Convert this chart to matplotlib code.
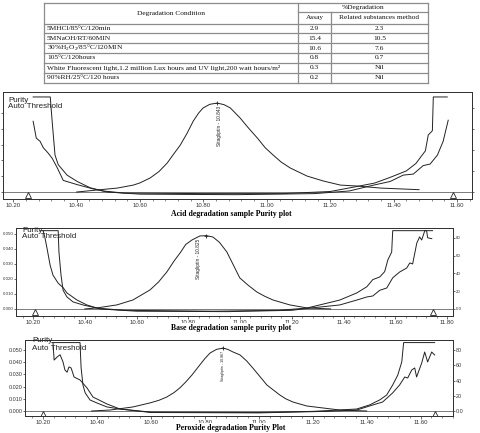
import matplotlib.pyplot as plt
import matplotlib.transforms as mtransforms
from matplotlib.ticker import AutoMinorLocator

W, H = 481, 433

plt.rcParams['mathtext.fontset'] = 'custom'
plt.rcParams['mathtext.rm'] = 'Liberation Serif'

# ---- table data
conditions = [
    '5MHCl/85°C/120min',
    '5MNaOH/RT/60MIN',
    '30%H$_2$O$_2$/85°C/120MIN',
    '105°C/120hours',
    'White Fluorescent light,1.2 million Lux hours and UV light,200 watt hours/m²',
    '90%RH/25°C/120 hours',
]
assay = ['2.9', '15.4', '10.6', '0.8', '0.3', '0.2']
related = ['2.3', '10.5', '7.6', '0.7', 'Nil', 'Nil']

# ---- acid degradation purity plot (minutes, AU / degrees)
acid_peak_t = [10.40, 10.465, 10.528, 10.579, 10.60, 10.632, 10.66, 10.686, 10.706, 10.727,
               10.748, 10.768, 10.785, 10.799, 10.82, 10.843, 10.865, 10.885, 10.916, 10.94,
               10.970, 10.995, 11.020, 11.045, 11.074, 11.127, 11.178, 11.232, 11.285, 11.36,
               11.48]
acid_peak_au = [0.0, 0.0013, 0.0025, 0.0044, 0.0058, 0.0089, 0.0130, 0.0184, 0.0240, 0.0297,
                0.0370, 0.0449, 0.0500, 0.0532, 0.0555, 0.0563, 0.0553, 0.0532, 0.0468, 0.0410,
                0.0342, 0.0280, 0.0234, 0.0190, 0.0152, 0.0101, 0.0070, 0.0044, 0.0038, 0.0025,
                0.0015]
acid_pur_t = [10.263, 10.317, 10.323, 10.332, 10.342, 10.370, 10.402, 10.443, 10.484, 10.55, 10.80,
              11.05, 11.20, 11.28, 11.34, 11.39, 11.44, 11.47, 11.50, 11.509, 11.522, 11.525, 11.569]
acid_pur_deg = [90, 90, 67, 35, 26, 16, 10, 4, 1, -1, -1.5,
                -1.5, 0.5, 5, 8.5, 14, 20, 27, 39, 54, 58, 90, 90]
acid_thr_t = [10.263, 10.273, 10.285, 10.295, 10.310, 10.323, 10.339, 10.358, 10.402, 10.452, 10.497,
              10.60, 10.90, 11.15, 11.26, 11.336, 11.389, 11.430, 11.462, 11.493, 11.515, 11.538,
              11.556, 11.572]
acid_thr_deg = [67, 51, 48, 42, 37, 32, 23, 11, 7, 3, 0,
                -2, -2.5, -1.5, 1, 6.5, 10, 16, 17, 25, 26.5, 35, 48, 68]
acid_tri = [10.247, 11.588]
acid_ticks = [10.20, 10.40, 10.60, 10.80, 11.00, 11.20, 11.40, 11.60]

# ---- base degradation purity plot
base_peak_t = [10.40, 10.447, 10.524, 10.586, 10.652, 10.685, 10.717, 10.745, 10.768, 10.79,
               10.814, 10.845, 10.87, 10.895, 10.92, 10.949, 10.975, 10.999, 11.03, 11.065,
               11.095, 11.127, 11.192, 11.258, 11.35]
base_peak_au = [0.0, 0.0007, 0.0027, 0.006, 0.0127, 0.018, 0.0247, 0.032, 0.0373, 0.043,
                0.046, 0.0487, 0.0489, 0.048, 0.0445, 0.038, 0.029, 0.0207, 0.016, 0.0113,
                0.0085, 0.006, 0.0027, 0.0007, 0.0]
base_pur_t = [10.23, 10.297, 10.300, 10.308, 10.316, 10.331, 10.354, 10.393, 10.447, 10.55, 10.90,
              11.15, 11.258, 11.385, 11.451, 11.490, 11.513, 11.540, 11.559, 11.571, 11.586,
              11.590, 11.744]
base_pur_deg = [88, 88, 64, 38, 21, 13.5, 8, 4.5, 1, -1.5, -2.5,
                -1.5, 1, 10, 18, 25, 33, 36, 42, 55, 64, 88, 88]
base_thr_t = [10.239, 10.246, 10.254, 10.266, 10.277, 10.297, 10.316, 10.331, 10.370, 10.408,
              10.459, 10.60, 10.95, 11.20, 11.27, 11.385, 11.451, 11.490, 11.513, 11.540, 11.567,
              11.590, 11.617, 11.644, 11.656, 11.667, 11.683, 11.694, 11.702, 11.714, 11.721,
              11.725, 11.741]
base_thr_deg = [88, 80, 68, 49, 38, 29, 24, 18, 10, 4.5,
                0, -2.5, -3, -1.5, 1, 4.5, 10, 13.5, 14.6, 21, 23.6,
                35, 41.6, 46, 51.7, 50.6, 74, 81, 77.5, 88, 88, 80, 79]
base_tri = [10.208, 11.744]
base_ticks = [10.20, 10.40, 10.60, 10.80, 11.00, 11.20, 11.40, 11.60, 11.80]

# ---- peroxide degradation purity plot
perox_peak_t = [10.38, 10.448, 10.533, 10.596, 10.63, 10.659, 10.685, 10.707, 10.73, 10.752,
                10.781, 10.80, 10.819, 10.843, 10.867, 10.885, 10.904, 10.930, 10.955, 10.978,
                11.005, 11.030, 11.055, 11.078, 11.10, 11.126, 11.178, 11.237, 11.300, 11.40]
perox_peak_au = [0.0, 0.0008, 0.0033, 0.0066, 0.0088, 0.0115, 0.015, 0.0189, 0.024, 0.0295,
                 0.0377, 0.043, 0.0475, 0.0505, 0.0516, 0.0505, 0.0484, 0.046, 0.041, 0.0352,
                 0.028, 0.0213, 0.017, 0.0131, 0.010, 0.0074, 0.0041, 0.0025, 0.0008, 0.0]
perox_pur_t = [10.233, 10.337, 10.341, 10.348, 10.356, 10.374, 10.400, 10.437, 10.485, 10.60,
               11.00, 11.20, 11.300, 11.363, 11.411, 11.448, 11.474, 11.496, 11.515, 11.530,
               11.537, 11.652]
perox_pur_deg = [90, 90, 57, 34, 24, 14.5, 10.5, 5.3, 2.6, -1.5,
                 -2, -0.5, 1.3, 2.6, 8, 14.5, 21, 34, 47, 64.5, 90, 90]
perox_thr_t = [10.237, 10.241, 10.252, 10.263, 10.274, 10.281, 10.289, 10.296, 10.304, 10.315,
               10.337, 10.363, 10.385, 10.437, 10.485, 10.60, 11.00, 11.25, 11.363, 11.411,
               11.459, 11.496, 11.522, 11.541, 11.552, 11.567, 11.578, 11.585, 11.604, 11.615,
               11.626, 11.641, 11.652]
perox_thr_deg = [89, 67, 71, 74, 64.5, 54, 51, 58, 56.6, 44.7,
                 40.8, 30.3, 18.4, 9.2, 2.6, -2, -2.5, -0.5, 1.3, 6.6,
                 11.8, 23.7, 34.2, 44.7, 43.4, 54, 56.6, 44.7, 63.2, 77.6,
                 64.5, 77.6, 73.7]
perox_tri = [10.20, 11.652]
perox_ticks = [10.20, 10.40, 10.60, 10.80, 11.00, 11.20, 11.40, 11.60]

au_ticks = [0.0, 0.01, 0.02, 0.03, 0.04, 0.05]
deg_ticks = [0, 20, 40, 60, 80]
deg_labels = ['0.0', '20', '40', '60', '80']

fig = plt.figure(figsize=(W / 100, H / 100), dpi=100)
ink = '#222222'


def panel(box, xlim, au_lim, deg_lim, peak_t, peak_au, pur_t, pur_deg, thr_t, thr_deg,
          tri, ticks, apex_label, lbl_dx, lbl_size, show_y, ylab_size=3.9):
    l, t, r, b = box
    ax = fig.add_axes([l / W, 1 - b / H, (r - l) / W, (b - t) / H])
    ax.patch.set_visible(False)
    ax2 = ax.twinx()
    ax.set_xlim(*xlim)
    ax.set_ylim(*au_lim)
    ax2.set_ylim(*deg_lim)

    ax.axhline(0, color='#666666', lw=0.6)
    ax.plot(peak_t, peak_au, color=ink, lw=0.7)
    ax2.plot(pur_t, pur_deg, color=ink, lw=0.7)
    ax2.plot(thr_t, thr_deg, color=ink, lw=0.7)

    down = mtransforms.offset_copy(ax.transData, fig=fig, x=0, y=-2.2, units='points')
    ax.plot(tri, [0] * len(tri), ls='none', marker='^', ms=4, mfc='white',
            mec=ink, mew=0.6, transform=down)

    i = peak_au.index(max(peak_au))
    ax.plot(peak_t[i], peak_au[i], marker='+', ms=3, color=ink, mew=0.6)
    ax.annotate(apex_label, (peak_t[i], peak_au[i]), xytext=(lbl_dx, -2),
                textcoords='offset points', rotation=90, ha='center', va='top',
                fontsize=lbl_size, family='Liberation Sans', color=ink)

    ax.set_xticks(ticks)
    ax.set_xticklabels(['%.2f' % v for v in ticks])
    ax.xaxis.set_minor_locator(AutoMinorLocator(5))
    ax.set_yticks(au_ticks)
    ax2.set_yticks(deg_ticks)
    if show_y:
        ax.set_yticklabels(['%.3f' % v for v in au_ticks])
        ax2.set_yticklabels(deg_labels)
    else:
        ax.set_yticklabels([])
        ax2.set_yticklabels([])
    for a in (ax, ax2):
        a.tick_params(labelsize=4.3, labelcolor='#333333', length=2, width=0.5,
                      pad=0.8, color='#333333')
        a.tick_params(axis='y', labelsize=ylab_size, pad=0.3, length=1.5)
        a.tick_params(which='minor', length=1.2, width=0.4, color='#333333')
        for s in a.spines.values():
            s.set_color('#333333')
            s.set_linewidth(0.7)
        for lab in a.get_xticklabels() + a.get_yticklabels():
            lab.set_family('Liberation Sans')
    return ax


panel((3, 92, 472, 199), (10.168, 11.647), (-0.0044, 0.0633), (-6.6, 94.7),
      acid_peak_t, acid_peak_au, acid_pur_t, acid_pur_deg, acid_thr_t, acid_thr_deg,
      acid_tri, acid_ticks, 'Sitagliptin - 10.843', 1.5, 3.4, False)
panel((16, 228, 453, 316), (10.134, 11.823), (-0.0047, 0.054), (-7.9, 91),
      base_peak_t, base_peak_au, base_pur_t, base_pur_deg, base_thr_t, base_thr_deg,
      base_tri, base_ticks, 'Sitagliptin - 10.825', -6, 3.4, True, ylab_size=3.2)
panel((25, 340, 453, 416), (10.133, 11.72), (-0.0041, 0.0582), (-6.6, 93.4),
      perox_peak_t, perox_peak_au, perox_pur_t, perox_pur_deg, perox_thr_t, perox_thr_deg,
      perox_tri, perox_ticks, 'Sitagliptin - 10.867', 0, 2.6, True)

# ---- overlay in pixel units: table, legends, captions
ov = fig.add_axes([0, 0, 1, 1], zorder=10)
ov.set_xlim(0, W)
ov.set_ylim(H, 0)
ov.axis('off')

tl, c1, c2, tr = 44, 298, 331, 428
top, sub, hdr = 2.5, 11.5, 23.5
row_h = (82.5 - hdr) / len(conditions)
bottom = hdr + row_h * len(conditions)
lc = '#8c8c8c'
lw = 0.9
for y in [top, hdr] + [hdr + row_h * (k + 1) for k in range(len(conditions))]:
    ov.plot([tl, tr], [y, y], color=lc, lw=lw)
ov.plot([c1, tr], [sub, sub], color=lc, lw=lw)
ov.plot([tl, tl], [top, bottom], color=lc, lw=lw)
ov.plot([tr, tr], [top, bottom], color=lc, lw=lw)
ov.plot([c1, c1], [top, bottom], color=lc, lw=lw)
ov.plot([c2, c2], [sub, bottom], color=lc, lw=lw)

tfont = dict(family='Liberation Serif', fontsize=5.3, color='#111111', va='center')
ov.text((tl + c1) / 2, (top + hdr) / 2, 'Degradation Condition', ha='center', **tfont)
ov.text((c1 + tr) / 2, (top + sub) / 2, '%Degradation', ha='center', **tfont)
ov.text((c1 + c2) / 2, (sub + hdr) / 2, 'Assay', ha='center', **tfont)
ov.text((c2 + tr) / 2, (sub + hdr) / 2, 'Related substances method', ha='center', **tfont)
for k, (cond, a, rs) in enumerate(zip(conditions, assay, related)):
    yc = hdr + row_h * (k + 0.5)
    ov.text(tl + 3, yc, cond, ha='left', **tfont)
    ov.text((c1 + c2) / 2, yc, a, ha='center', **tfont)
    ov.text((c2 + tr) / 2, yc, rs, ha='center', **tfont)

lfont = dict(family='Liberation Sans', fontsize=5.8, color='#222222', va='center', ha='left')
for x, y1, y2 in [(8, 101, 107), (22, 231, 237), (32, 341, 348)]:
    ov.text(x, y1, 'Purity', **lfont)
    ov.text(x, y2, 'Auto Threshold', **lfont)

cfont = dict(family='Liberation Serif', fontsize=5.6, weight='bold', color='black',
             ha='center', va='center',
             bbox=dict(boxstyle='square,pad=0.15', fc='white', ec='none'))
ov.text(231, 214, 'Acid degradation sample Purity plot', **cfont)
ov.text(231, 328, 'Base degradation sample purity plot', **cfont)
ov.text(231, 428.5, 'Peroxide degradation Purity Plot', **cfont)

fig.savefig('out.png', dpi=100)
